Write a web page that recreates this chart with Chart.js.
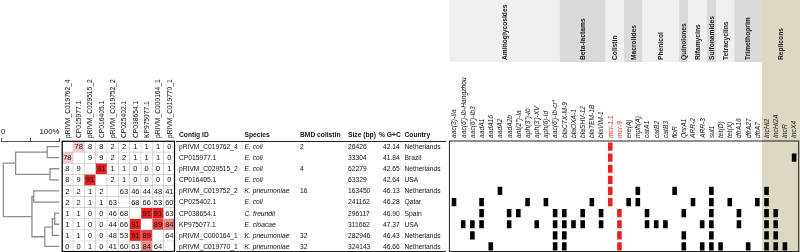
<!DOCTYPE html>
<html>
<head>
<meta charset="utf-8">
<script src="https://cdn.jsdelivr.net/npm/chart.js@4.4.1/dist/chart.umd.min.js"></script>
<style>
  html, body { margin: 0; padding: 0; background: #fff; }
  #wrap { position: relative; width: 800px; height: 252px; overflow: hidden; }
  canvas { position: absolute; top: 0; }
</style>
</head>
<body>
<div id="wrap">
  <canvas id="dendro" width="62" height="252" style="left:0px"></canvas>
  <canvas id="table" width="275" height="252" style="left:175px"></canvas>
  <canvas id="heat" width="126" height="252" style="left:54px"></canvas>
  <canvas id="genes" width="359" height="252" style="left:441px"></canvas>
</div>
<script>
// ---- data ----
const contigs = ['pRIVM_C019762_4', 'CP015977.1', 'pRIVM_C029515_2', 'CP016405.1', 'pRIVM_C019752_2',
  'CP025402.1', 'CP038654.1', 'KP975077.1', 'pRIVM_C000164_1', 'pRIVM_C019770_1'];
const species = ['E. coli', 'E. coli', 'E. coli', 'E. coli', 'K. pneumoniae',
  'E. coli', 'C. freundii', 'E. cloacae', 'K. pneumoniae', 'K. pneumoniae'];
const bmdColistin = ['2', '', '4', '', '16', '', '', '', '32', '32'];
const sizeBp = [26426, 33304, 62279, 63329, 163450, 241162, 296117, 311662, 282946, 324143];
const gcPercent = [42.14, 41.84, 42.65, 42.64, 46.13, 46.28, 46.90, 47.37, 46.43, 46.66];
const country = ['Netherlands', 'Brazil', 'Netherlands', 'USA', 'Netherlands',
  'Qatar', 'Spain', 'USA', 'Netherlands', 'Netherlands'];

// pairwise similarity (%), diagonal left empty
const similarity = [
  [null, 78, 8, 8, 2, 2, 1, 1, 1, 0],
  [78, null, 9, 9, 2, 2, 1, 1, 1, 0],
  [8, 9, null, 91, 1, 1, 0, 0, 0, 1],
  [8, 9, 91, null, 2, 1, 0, 0, 0, 0],
  [2, 2, 1, 2, null, 63, 46, 44, 48, 41],
  [2, 2, 1, 1, 63, null, 68, 66, 53, 60],
  [1, 1, 0, 0, 46, 68, null, 91, 91, 63],
  [1, 1, 0, 0, 44, 66, 91, null, 89, 84],
  [1, 1, 0, 0, 48, 53, 91, 89, null, 64],
  [0, 0, 1, 0, 41, 60, 63, 84, 64, null]
];

// dendrogram merges: [node a, node b, similarity %]; leaves are 0..9, new nodes get 10, 11, ...
const dendroMerges = [
  [0, 1, 79], [2, 3, 84], [10, 11, 25],
  [6, 7, 92], [13, 8, 88], [14, 9, 75],
  [4, 5, 56], [16, 15, 53], [12, 17, 4]
];
const scaleTicks = [0, 50, 100];

const genes = ["aac(3)-IIa", "aac(6')-Ib-Hangzhou", "aac(6')-Ib3", "aadA1", "aadA16", "aadA2", "aadA2b",
  "ant(2'')-Ia", "aph(3'')-Ib", "aph(3')-XV", "aph(6)-Id", "aac(6')-Ib-cr*",
  "blaCTX-M-9", "blaOXA-1", "blaSHV-12", "blaTEM-1B", "blaVIM-1",
  "mcr-1.1", "mcr-9", "ere(A)", "mph(A)", "catA1", "catB2", "catB3", "floR", "QnrA1",
  "ARR-2", "ARR-3", "sul1", "tet(D)", "tet(X)", "dfrA16", "dfrA27", "dfrA7",
  "IncHI2", "IncHI2A", "IncR", "IncX4"];
const groupNames = ['Aminoglycosides', 'Beta-lactams', 'Colistin', 'Macrolides', 'Phenicol', 'Quinolones',
  'Rifamycins', 'Sulfonamides', 'Tetracyclins', 'Trimethoprim', 'Replicons'];
const groupSizes = [12, 5, 2, 2, 4, 1, 2, 1, 2, 3, 4];
const colistinGenes = ['mcr-1.1', 'mcr-9'];

// genes found on each contig (same order as contigs)
const genesFound = [
  ['mcr-1.1'],
  ['mcr-1.1', 'IncX4'],
  ['mcr-1.1'],
  ['mcr-1.1'],
  ['aadA2', 'mcr-1.1', 'mph(A)', 'floR', 'sul1', 'IncHI2'],
  ['aac(3)-IIa', 'aadA1', "aph(3'')-Ib", 'aph(6)-Id', 'blaTEM-1B', 'mcr-1.1', 'ere(A)', 'mph(A)',
    'ARR-2', 'sul1', 'tet(X)', 'dfrA7', 'IncHI2'],
  ['aadA1', 'aadA2b', "ant(2'')-Ia", "aac(6')-Ib-cr*", 'blaCTX-M-9', 'blaSHV-12', 'blaVIM-1', 'mcr-9',
    'catA1', 'QnrA1', 'sul1', 'dfrA16', 'IncHI2', 'IncHI2A'],
  ["aac(6')-Ib-Hangzhou", "aac(6')-Ib3", 'aadA1', 'aadA2b', "aph(3')-XV", "aac(6')-Ib-cr*", 'blaCTX-M-9',
    'blaOXA-1', 'blaSHV-12', 'blaVIM-1', 'mcr-9', 'catA1', 'catB2', 'catB3', 'ARR-3', 'sul1', 'dfrA16',
    'IncHI2', 'IncHI2A'],
  ["aac(6')-Ib3", "aac(6')-Ib-cr*", 'blaCTX-M-9', 'mcr-9', 'QnrA1', 'sul1', 'IncHI2', 'IncHI2A'],
  ['aadA16', "aac(6')-Ib-cr*", 'blaCTX-M-9', 'mcr-9', 'QnrA1', 'ARR-3', 'sul1', 'tet(D)', 'dfrA27',
    'IncHI2', 'IncHI2A', 'IncR']
];

// ---- shared look ----
const FONT = '"Liberation Sans", Arial, sans-serif';
Chart.defaults.font.family = FONT;
Chart.defaults.color = '#111';
const RED = '#e8231f';
const rowScale = { type: 'linear', reverse: true, min: -0.5, max: 9.5, display: false };
const base = {
  responsive: false, animation: false, events: [],
  plugins: { legend: { display: false }, tooltip: { enabled: false } }
};
const HEADER_H = 141;

function cellColor(v) {
  if (v == null || v < 70) return '#ffffff';
  const t = Math.pow(Math.min(1, (v - 70) / 21), 1.5);
  const mix = (a, b) => Math.round(a + (b - a) * t);
  return 'rgb(' + mix(255, 230) + ',' + mix(255, 30) + ',' + mix(255, 30) + ')';
}

// vertical column labels above a category axis
function columnLabels(labels, font, colorOf) {
  return {
    id: 'columnLabels',
    afterDraw(chart) {
      const ctx = chart.ctx, xs = chart.scales.x;
      const y = chart.chartArea.top - 3;
      ctx.save();
      ctx.font = font;
      ctx.textAlign = 'left';
      ctx.textBaseline = 'middle';
      labels.forEach((lab, i) => {
        ctx.save();
        ctx.translate(xs.getPixelForValue(i) + 0.5, y);
        ctx.rotate(-Math.PI / 2);
        ctx.fillStyle = colorOf(lab);
        ctx.fillText(lab, 0, 0);
        ctx.restore();
      });
      ctx.restore();
    }
  };
}

// ---- dendrogram ----
function dendroPoints() {
  const pos = contigs.map((_, i) => ({ x: 100, y: i }));
  const pts = [];
  dendroMerges.forEach(([a, b, h]) => {
    const A = pos[a], B = pos[b];
    pts.push({ x: A.x, y: A.y }, { x: h, y: A.y }, { x: h, y: B.y }, { x: B.x, y: B.y }, { x: null, y: null });
    pos.push({ x: h, y: (A.y + B.y) / 2 });
  });
  return pts;
}

new Chart(document.getElementById('dendro'), {
  type: 'scatter',
  data: { datasets: [{ data: dendroPoints(), showLine: true, spanGaps: false, borderColor: '#8c8c8c',
    borderWidth: 1.3, pointRadius: 0, tension: 0 }] },
  options: Object.assign({}, base, {
    layout: { padding: { left: 1, right: 2.6, top: 0, bottom: 0 } },
    scales: {
      x: {
        type: 'linear', position: 'top', min: 0, max: 100,
        afterFit: s => { s.height = HEADER_H; },
        afterBuildTicks: s => { s.ticks = scaleTicks.map(v => ({ value: v })); },
        grid: { display: true, drawOnChartArea: false, drawTicks: true, tickLength: 3, color: '#555' },
        border: { display: true, color: '#555', width: 1 },
        ticks: { align: 'inner', padding: 1, maxRotation: 0, autoSkip: false, font: { size: 7.8 },
          callback: v => v === 0 ? '0' : (v === 100 ? '100%' : '') }
      },
      y: rowScale
    }
  })
});

// ---- similarity heatmap ----
const heatText = {
  id: 'heatText',
  afterDatasetsDraw(chart) {
    const ctx = chart.ctx, a = chart.chartArea;
    ctx.save();
    ctx.font = '7.5px ' + FONT;
    ctx.textAlign = 'center';
    ctx.textBaseline = 'middle';
    ctx.fillStyle = '#111';
    chart.data.datasets.forEach((ds, r) => {
      chart.getDatasetMeta(r).data.forEach((bar, c) => {
        const v = ds.values[c];
        if (v == null) return;
        ctx.fillText(String(v), bar.x, (bar.y + bar.base) / 2 + 0.5);
      });
    });
    ctx.strokeStyle = '#000';
    ctx.lineWidth = 1.2;
    ctx.strokeRect(a.left + 0.5, a.top + 0.3, a.width - 1, a.height - 0.8);
    ctx.restore();
  }
};

new Chart(document.getElementById('heat'), {
  type: 'bar',
  data: {
    labels: contigs,
    datasets: similarity.map((row, r) => ({
      data: row.map(() => [r - 0.5, r + 0.5]),
      values: row,
      backgroundColor: row.map(cellColor),
      borderColor: '#c6c6c6', borderWidth: 0.6, borderSkipped: false,
      grouped: false, categoryPercentage: 1, barPercentage: 1
    }))
  },
  options: Object.assign({}, base, {
    layout: { padding: { left: 7.7, right: 5, top: HEADER_H, bottom: 0 } },
    scales: {
      x: { offset: true, display: false },
      y: rowScale
    }
  }),
  plugins: [heatText, columnLabels(contigs, '6.7px ' + FONT, () => '#111')]
});

// ---- metadata table ----
const tableCols = [
  { title: 'Contig ID', x: 4, get: r => contigs[r] },
  { title: 'Species', x: 69.5, get: r => species[r], italic: true },
  { title: 'BMD colistin', x: 125, get: r => bmdColistin[r] },
  { title: 'Size (bp)', x: 173, get: r => String(sizeBp[r]) },
  { title: '% G+C', x: 204, valueX: 208, get: r => gcPercent[r].toFixed(2) },
  { title: 'Country', x: 229.5, get: r => country[r] }
];

const tableText = {
  id: 'tableText',
  afterDraw(chart) {
    const ctx = chart.ctx, xs = chart.scales.x, ys = chart.scales.y;
    ctx.save();
    ctx.textBaseline = 'middle';
    ctx.textAlign = 'left';
    ctx.fillStyle = '#111';
    tableCols.forEach(col => {
      ctx.font = 'bold 6.7px ' + FONT;
      ctx.fillText(col.title, xs.getPixelForValue(col.x), ys.getPixelForValue(-1));
      ctx.font = (col.italic ? 'italic ' : '') + '6.7px ' + FONT;
      const vx = xs.getPixelForValue(col.valueX != null ? col.valueX : col.x);
      contigs.forEach((_, r) => ctx.fillText(col.get(r), vx, ys.getPixelForValue(r) + 0.5));
    });
    ctx.strokeStyle = '#222';
    ctx.lineWidth = 1;
    [-0.5, 9.5].forEach(v => {
      const y = Math.min(Math.round(ys.getPixelForValue(v)) + 0.5, chart.height - 0.5);
      ctx.beginPath();
      ctx.moveTo(xs.getPixelForValue(1), y);
      ctx.lineTo(xs.getPixelForValue(271), y);
      ctx.stroke();
    });
    ctx.restore();
  }
};

new Chart(document.getElementById('table'), {
  type: 'scatter',
  data: { datasets: [] },
  options: Object.assign({}, base, {
    layout: { padding: { left: 0, right: 0, top: HEADER_H, bottom: 0 } },
    scales: {
      x: { type: 'linear', min: 0, max: 275, offset: false, display: false },
      y: rowScale
    }
  }),
  plugins: [tableText]
});

// ---- resistance genes / replicons ----
const geneCells = [];
genesFound.forEach((list, r) => list.forEach(g => geneCells.push({ x: g, y: [r - 0.37, r + 0.37] })));

const bands = {
  id: 'bands',
  beforeDraw(chart) {
    const ctx = chart.ctx, xs = chart.scales.x;
    const colW = xs.getPixelForValue(1) - xs.getPixelForValue(0);
    let start = 0;
    ctx.save();
    groupNames.forEach((name, g) => {
      const n = groupSizes[g];
      const left = xs.getPixelForValue(start) - colW / 2;
      const right = xs.getPixelForValue(start + n - 1) + colW / 2;
      const last = g === groupNames.length - 1;
      ctx.fillStyle = last ? '#ddd8c4' : (g % 2 ? '#d9d9d9' : '#f0f0f0');
      ctx.fillRect(left, 0, (last ? chart.width : right) - left, last ? chart.height : 62);
      ctx.save();
      ctx.translate((left + right) / 2 + 0.5, 60);
      ctx.rotate(-Math.PI / 2);
      ctx.font = 'bold 6.7px ' + FONT;
      ctx.textAlign = 'left';
      ctx.textBaseline = 'middle';
      ctx.fillStyle = '#222';
      ctx.fillText(name, 0, 0);
      ctx.restore();
      start += n;
    });
    ctx.restore();
  },
  afterDraw(chart) {
    const ctx = chart.ctx, a = chart.chartArea;
    ctx.save();
    ctx.strokeStyle = '#222';
    ctx.lineWidth = 1;
    ctx.strokeRect(a.left, a.top, a.width, a.height - 0.5);
    ctx.restore();
  }
};

new Chart(document.getElementById('genes'), {
  type: 'bar',
  data: {
    labels: genes,
    datasets: [{
      data: geneCells,
      backgroundColor: geneCells.map(c => colistinGenes.includes(c.x) ? RED : '#000'),
      borderWidth: 0, categoryPercentage: 1, barPercentage: 0.5
    }]
  },
  options: Object.assign({}, base, {
    layout: { padding: { left: 8.4, right: 1.3, top: HEADER_H, bottom: 0 } },
    scales: {
      x: { offset: true, display: false },
      y: rowScale
    }
  }),
  plugins: [bands, columnLabels(genes, 'italic 6.7px ' + FONT, g => colistinGenes.includes(g) ? RED : '#111')]
});
</script>
</body>
</html>
